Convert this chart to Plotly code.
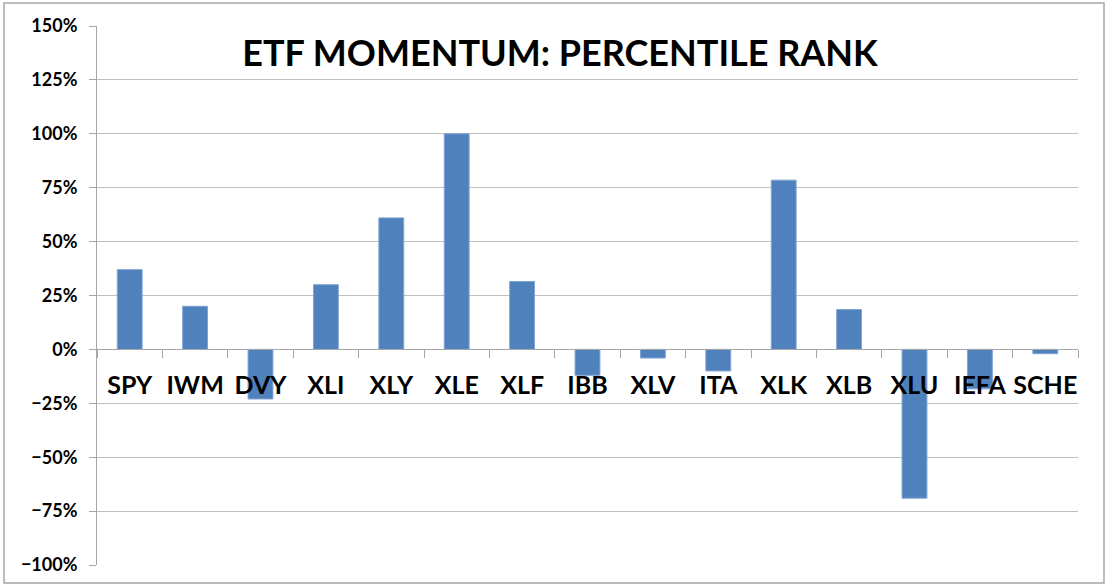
import plotly.graph_objects as go

tickers = ["SPY", "IWM", "DVY", "XLI", "XLY", "XLE", "XLF", "IBB", "XLV", "ITA", "XLK", "XLB", "XLU", "IEFA", "SCHE"]
rank = [0.37, 0.20, -0.23, 0.30, 0.61, 1.00, 0.315, -0.12, -0.04, -0.10, 0.785, 0.185, -0.69, -0.183, -0.02]
y_ticks = [-1.0, -0.75, -0.5, -0.25, 0.0, 0.25, 0.5, 0.75, 1.0, 1.25, 1.5]
title_text = "ETF MOMENTUM: PERCENTILE RANK"

FONT = "Lato"

fig = go.Figure()
fig.add_trace(go.Bar(
    x=tickers, y=rank,
    marker=dict(color="#4f81bd", line=dict(color="#7fa3d3", width=1)),
))

fig.update_layout(
    width=1109, height=588,
    margin=dict(l=97, r=31, t=26, b=23, autoexpand=False),
    paper_bgcolor="white", plot_bgcolor="white",
    showlegend=False,
    bargap=0.62,
    title=dict(text=title_text, x=0.505, xanchor="center", y=0.91, yanchor="middle",
               font=dict(family=FONT, size=36, color="black", weight="bold")),
    xaxis=dict(
        type="category", range=[-0.5, 14.5],
        anchor="free", position=0.4007,
        automargin=False,
        showline=True, linecolor="#a6a6a6", linewidth=1,
        ticks="outside", ticklen=8, tickcolor="#a6a6a6", tickson="boundaries",
        tickangle=0,
        ticklabelstandoff=14,
        tickfont=dict(family=FONT, size=25, color="black", weight="bold"),
        showgrid=False, zeroline=False,
    ),
    yaxis=dict(
        range=[-1.0, 1.5], domain=[0, 1],
        automargin=False,
        tickvals=y_ticks, tickformat=".0%",
        showline=True, linecolor="#a6a6a6", linewidth=1,
        ticks="outside", ticklen=7, tickcolor="#a6a6a6",
        showgrid=True, gridcolor="#bfbfbf", gridwidth=1,
        zeroline=False,
        tickfont=dict(family=FONT, size=18, color="black", weight="bold"),
        ticklabelstandoff=8,
    ),
)

fig.add_shape(type="rect", xref="paper", yref="paper",
              x0=-93/981, x1=1007/981, y0=-18/539, y1=562/539,
              line=dict(color="#a6a6a6", width=1.5), layer="above")

fig.write_html("out.html", config={"displayModeBar": False},
               post_script="document.body.style.margin='0';document.body.style.overflow='hidden';")
